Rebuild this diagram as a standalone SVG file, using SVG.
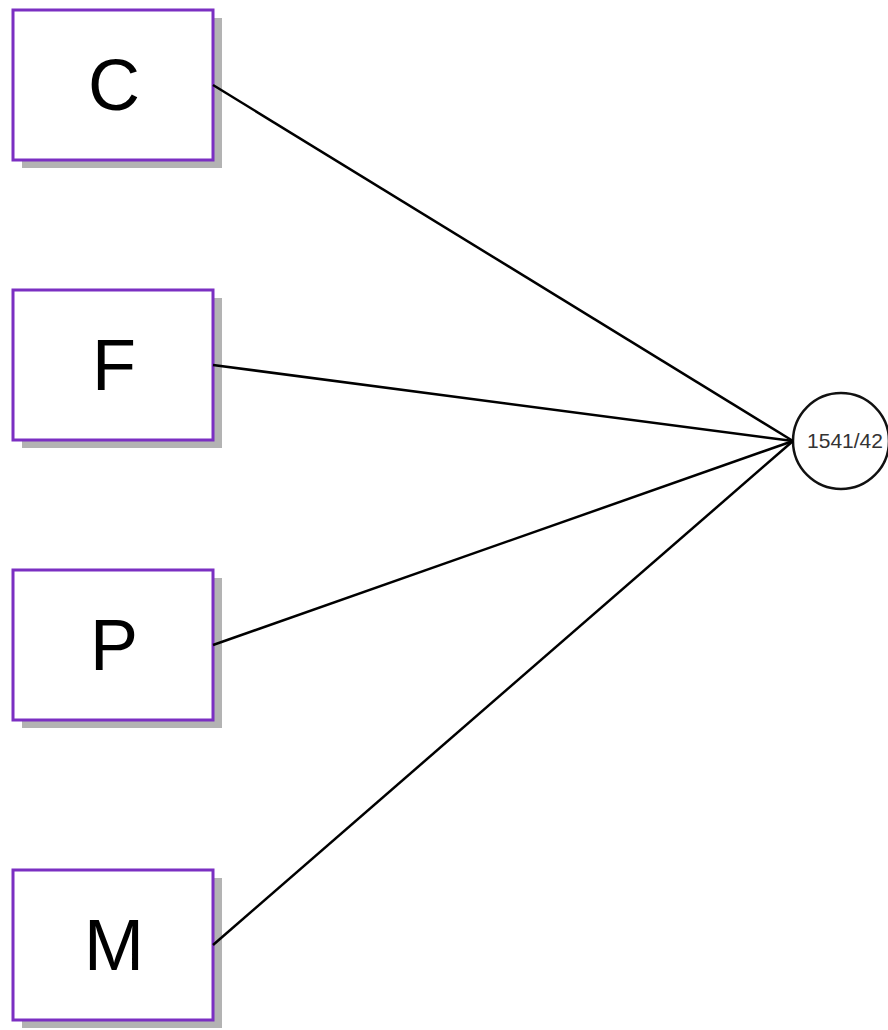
<svg xmlns="http://www.w3.org/2000/svg" width="888" height="1030" viewBox="0 0 888 1030">
<style>
.shadow{fill:#b3b3b3}
.box{fill:#ffffff;stroke:#7b2fc2;stroke-width:3}
.lbl{font-family:"Liberation Sans",Arial,sans-serif;font-size:72px;fill:#000;text-anchor:middle}
.edge{stroke:#000;stroke-width:2.5;fill:none}
</style>
<rect width="888" height="1030" fill="#ffffff"/>
<g id="node-C">
<rect class="shadow" x="22" y="18" width="200" height="150"/>
<rect class="box" x="13" y="10" width="200" height="150"/>
<text class="lbl" x="114" y="110">C</text>
</g>
<g id="node-F">
<rect class="shadow" x="22" y="298" width="200" height="150"/>
<rect class="box" x="13" y="290" width="200" height="150"/>
<text class="lbl" x="114" y="390">F</text>
</g>
<g id="node-P">
<rect class="shadow" x="22" y="578" width="200" height="150"/>
<rect class="box" x="13" y="570" width="200" height="150"/>
<text class="lbl" x="114" y="670">P</text>
</g>
<g id="node-M">
<rect class="shadow" x="22" y="878" width="200" height="150"/>
<rect class="box" x="13" y="870" width="200" height="150"/>
<text class="lbl" x="114" y="970">M</text>
</g>
<g id="node-total">
<circle cx="841" cy="441" r="48" fill="#ffffff" stroke="#111" stroke-width="2.5"/>
<text x="845" y="448" font-family="Liberation Sans, Arial, sans-serif" font-size="21" text-anchor="middle" fill="#333">1541/42</text>
</g>
<g id="connectors">
<line class="edge" x1="213" y1="85" x2="793" y2="441"/>
<line class="edge" x1="213" y1="365" x2="793" y2="441"/>
<line class="edge" x1="213" y1="645" x2="793" y2="441"/>
<line class="edge" x1="213" y1="945" x2="793" y2="441"/>
</g>
</svg>
